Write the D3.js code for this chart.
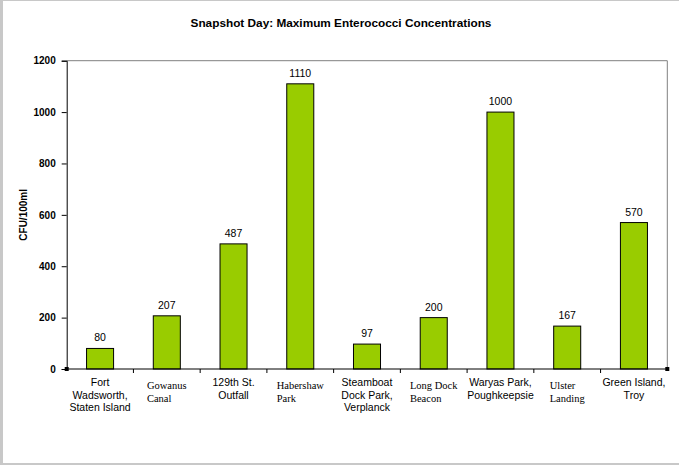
<!DOCTYPE html>
<html><head><meta charset="utf-8">
<script src="https://cdn.jsdelivr.net/npm/d3@7"></script>
<style>body{margin:0;background:#fff}svg{display:block}</style>
</head><body>
<script>
const categories = [
  ["Fort", "Wadsworth,", "Staten Island"],
  ["Gowanus", "Canal"],
  ["129th St.", "Outfall"],
  ["Habershaw", "Park"],
  ["Steamboat", "Dock Park,", "Verplanck"],
  ["Long Dock", "Beacon"],
  ["Waryas Park,", "Poughkeepsie"],
  ["Ulster", "Landing"],
  ["Green Island,", "Troy"]
];
const serifLabel = [false, true, false, true, false, true, false, true, false];
const values = [80, 207, 487, 1110, 97, 200, 1000, 167, 570];
const yTicks = [0, 200, 400, 600, 800, 1000, 1200];
const title = "Snapshot Day: Maximum Enterococci Concentrations";
const yTitle = "CFU/100ml";

const W = 679, H = 465;
const m = {left: 66.7, right: 679 - 667.3, top: 60.7, bottom: 465 - 369};
const svg = d3.select("body").append("svg").attr("width", W).attr("height", H);

// outer frame
svg.append("rect").attr("x", 0).attr("y", 0).attr("width", W).attr("height", H).attr("fill", "#c8c8c8");
svg.append("rect").attr("x", 3).attr("y", 1).attr("width", W - 3).attr("height", 462).attr("fill", "#fff");

const x = d3.scaleBand().domain(d3.range(categories.length)).range([m.left, W - m.right]).paddingInner(0).paddingOuter(0);
const y = d3.scaleLinear().domain([0, 1200]).range([H - m.bottom, m.top]);

// plot frame (top/right gray)
svg.append("path")
  .attr("d", `M${m.left},${m.top}H${W - m.right}V${H - m.bottom}`)
  .attr("fill", "none").attr("stroke", "#808080").attr("stroke-width", 1);

// bars
const bw = x.bandwidth() * 0.405;
svg.selectAll("rect.bar").data(values).join("rect").attr("class", "bar")
  .attr("x", (d, i) => x(i) + (x.bandwidth() - bw) / 2)
  .attr("y", d => y(d))
  .attr("width", bw)
  .attr("height", d => y(0) - y(d))
  .attr("fill", "#99cc00").attr("stroke", "#000").attr("stroke-width", 1);

// value labels
svg.selectAll("text.val").data(values).join("text").attr("class", "val")
  .attr("x", (d, i) => x(i) + x.bandwidth() / 2)
  .attr("y", d => y(d) - 7)
  .attr("text-anchor", "middle")
  .attr("font-family", "Liberation Sans, Arial, sans-serif")
  .attr("font-size", 10.5).attr("fill", "#000")
  .text(d => d);

// y axis
const yAxis = svg.append("g").attr("transform", `translate(${m.left},0)`)
  .call(d3.axisLeft(y).tickValues(yTicks).tickFormat(d3.format("d")).tickSize(5).tickPadding(6));
yAxis.select(".domain").attr("stroke", "#000");
yAxis.selectAll("line").attr("stroke", "#000");
yAxis.selectAll("text").attr("font-family", "Liberation Sans, Arial, sans-serif")
  .attr("font-size", 10).attr("font-weight", "bold").attr("fill", "#000");

// x axis with ticks at category boundaries
const xAxisG = svg.append("g").attr("transform", `translate(0,${y(0)})`);
xAxisG.append("line").attr("x1", m.left).attr("x2", W - m.right).attr("stroke", "#000");
xAxisG.selectAll("line.tk").data(d3.range(1, categories.length)).join("line").attr("class", "tk")
  .attr("x1", i => x(i)).attr("x2", i => x(i)).attr("y1", 0).attr("y2", 4).attr("stroke", "#000");

// category labels
categories.forEach((lines, i) => {
  const cx = x(i) + x.bandwidth() / 2;
  const serif = serifLabel[i];
  const g = svg.append("g");
  const t = g.selectAll("text").data(lines).join("text")
    .attr("font-family", serif ? "Liberation Serif, Times New Roman, serif" : "Liberation Sans, Arial, sans-serif")
    .attr("font-size", 10.5)
    .attr("fill", "#000")
    .attr("y", (d, j) => y(0) + (serif ? 20 : 17) + j * 12.5)
    .text(d => d);
  if (serif) {
    const maxW = d3.max(t.nodes(), n => n.getComputedTextLength());
    t.attr("x", cx - maxW / 2).attr("text-anchor", "start");
  } else {
    t.attr("x", cx).attr("text-anchor", "middle");
  }
});

// selection handles
[m.left, W - m.right].forEach(hx => {
  svg.append("rect").attr("x", hx - 2).attr("y", y(0) - 2).attr("width", 4).attr("height", 4).attr("fill", "#000");
});

// title
svg.append("text").attr("x", 341).attr("y", 27).attr("text-anchor", "middle")
  .attr("font-family", "Liberation Sans, Arial, sans-serif").attr("font-weight", "bold")
  .attr("font-size", 11.8).attr("fill", "#000").text(title);

// y title
svg.append("text").attr("transform", `translate(27,${(m.top + y(0)) / 2}) rotate(-90)`)
  .attr("text-anchor", "middle")
  .attr("font-family", "Liberation Sans, Arial, sans-serif").attr("font-weight", "bold")
  .attr("font-size", 10).attr("fill", "#000").text(yTitle);
</script>
</body></html>
